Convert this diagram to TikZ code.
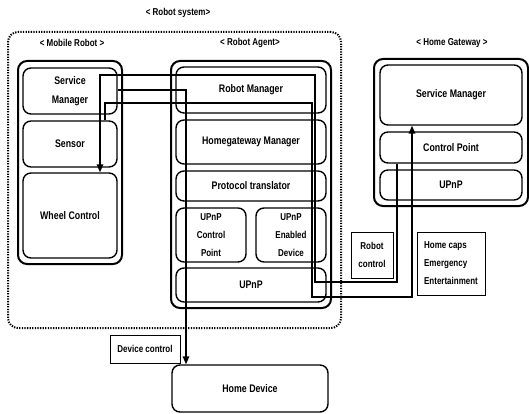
\documentclass[tikz,border=0pt]{standalone}
\usepackage{fontspec}
\setmainfont[FakeStretch=0.8]{Liberation Sans}
\usetikzlibrary{positioning, arrows, arrows.meta}

\tikzset{
  outbox/.style={draw, line width=2pt, rounded corners=9pt, inner sep=0pt},
  inbox/.style={draw, line width=1.4pt, rounded corners=8pt, inner sep=0pt, align=center,
    font=\fontsize{11}{19}\selectfont\bfseries},
  smallbox/.style={inbox, font=\fontsize{10}{18}\selectfont\bfseries},
  tag/.style={font=\fontsize{10}{12}\selectfont\bfseries},
  note/.style={draw, line width=0.7pt, inner sep=0pt, font=\fontsize{10}{18}\selectfont\bfseries},
  link/.style={line width=1.4pt, -{Triangle[length=8pt, width=6.5pt]}},
}

\begin{document}
\begin{tikzpicture}[x=1pt, y=-1pt]
  \useasboundingbox (0,0) rectangle (529,414);

  % robot system
  \node[draw, line width=2pt, dash pattern=on 1.3pt off 1.3pt, rounded corners=10pt,
        minimum width=333, minimum height=296] (system) at (174.5,180) {};
  \node[tag] (systag) at (178,13) {< Robot system>};

  % mobile robot
  \node[tag] (mobtag) at (72,43) {< Mobile Robot >};
  \node[outbox, minimum width=104, minimum height=203] (mobile) at (70,162.5) {};
  \node[inbox, minimum width=94, minimum height=46] (msm) at (70,91) {Service\\Manager};
  \node[inbox, minimum width=94, minimum height=46] (sensor) at (70,144) {Sensor};
  \node[inbox, minimum width=94, minimum height=85] (wheel) at (70,215.5) {Wheel Control};

  % robot agent
  \node[tag] (agtag) at (250,43) {< Robot Agent>};
  \node[outbox, minimum width=160, minimum height=247] (agent) at (251,184.5) {};
  \node[inbox, minimum width=150, minimum height=46] (rm) at (251,90) {Robot Manager};
  \node[inbox, minimum width=150, minimum height=44] (hgm) at (251,142) {Homegateway Manager};
  \node[inbox, minimum width=150, minimum height=30] (pt) at (251,186) {Protocol translator};
  \node[smallbox, minimum width=70, minimum height=54] (upcp) at (211,235) {UPnP\\Control\\Point};
  \node[smallbox, minimum width=70, minimum height=54] (uped) at (291,235) {UPnP\\Enabled\\Device};
  \node[inbox, minimum width=150, minimum height=34] (upnp) at (251,285) {UPnP};

  % home gateway
  \node[tag] (gwtag) at (452,43) {< Home Gateway >};
  \node[outbox, minimum width=154, minimum height=147] (gw) at (451,132.5) {};
  \node[inbox, minimum width=142, minimum height=60] (gsm) at (451,95) {Service Manager};
  \node[inbox, minimum width=142, minimum height=31] (gcp) at (451,147.5) {Control Point};
  \node[inbox, minimum width=142, minimum height=30] (gupnp) at (451,185) {UPnP};

  % home device
  \node[inbox, minimum width=156, minimum height=47] (hdev) at (250,388.5) {Home Device};

  % notes
  \node[note, minimum width=70, minimum height=28] (devctl) at (145,349) {Device control};
  \node[note, minimum width=42, minimum height=46, align=center] (robctl) at (372,255) {Robot\\control};
  \node[note, minimum width=68, minimum height=63, align=left] (caps) at (451,263.5)
    {Home caps\\Emergency\\Entertainment};

  % bends
  \coordinate (a1) at (397,282);
  \coordinate (a2) at (315,282);
  \coordinate (a3) at (315,75);
  \coordinate (a4) at (100,75);
  \coordinate (b1) at (105,103);
  \coordinate (b2) at (312,103);
  \coordinate (b3) at (312,297);
  \coordinate (b4) at (412,297);
  \coordinate (c1) at (186,90);

  % connectors
  \draw[link] (gcp.south -| a1) -- (a1) -- (a2) -- (a3) -- (a4) -- (wheel.north -| a4);
  \draw[link] (sensor.north -| b1) -- (b1) -- (b2) -- (b3) -- (b4) -- (gsm.south -| b4);
  \draw[link] (msm.east |- c1) -- (c1) -- (hdev.north -| c1);
\end{tikzpicture}
\end{document}
